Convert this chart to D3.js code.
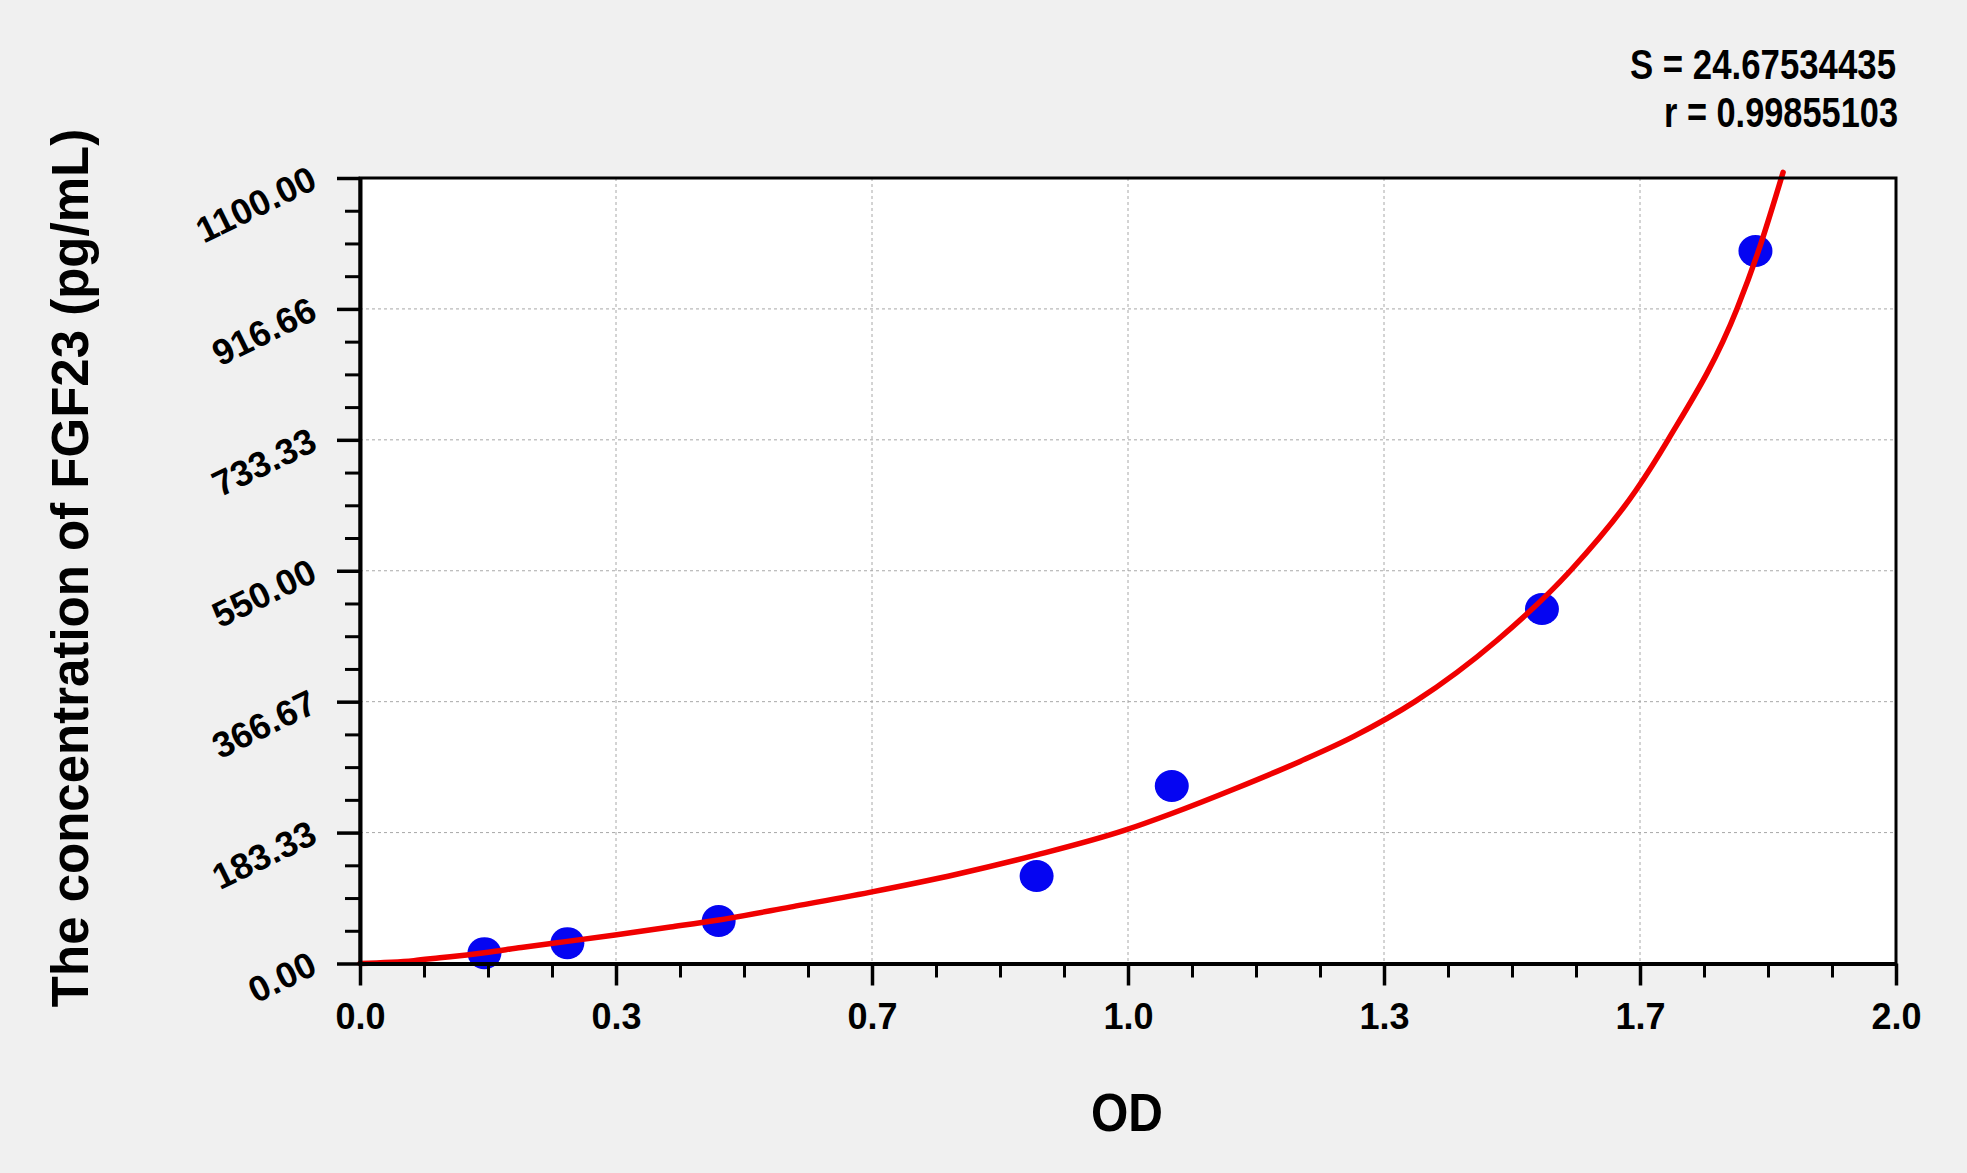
<!DOCTYPE html>
<html>
<head>
<meta charset="utf-8">
<script src="https://cdn.jsdelivr.net/npm/d3@7"></script>
<style>
  body { margin: 0; background: #f0f0f0; }
  svg { display: block; font-family: "Liberation Sans", Arial, sans-serif; font-weight: bold; }
  .grid line { stroke: #a8a8a8; stroke-width: 1; stroke-dasharray: 3,3; }
  .axis path, .axis line { stroke: #000; }
</style>
</head>
<body>
<svg id="chart" width="1967" height="1173"></svg>
<script>
// standard points (OD, concentration)
var pointOD   = [0.162, 0.270, 0.467, 0.881, 1.057, 1.539, 1.817];
var pointConc = [14.5, 28.5, 59.5, 122.5, 248.6, 496.4, 997.8];

// fitted curve
var curveOD   = [0.000, 0.070, 0.104, 0.139, 0.162, 0.210, 0.270, 0.332, 0.404, 0.467, 0.560, 0.665,
                 0.777, 0.881, 0.997, 1.057, 1.140, 1.224, 1.294, 1.374, 1.481, 1.576, 1.661,
                 1.703, 1.793, 1.820, 1.853];
var curveConc = [0, 4, 8, 12, 15, 22.5, 31, 40, 51, 61, 79, 100,
                 125, 152, 187, 210, 245, 283, 318, 367, 453, 550, 662,
                 733, 917, 995, 1108];

var xTickLabels = ["0.0", "0.3", "0.7", "1.0", "1.3", "1.7", "2.0"];
var yTickLabels = ["0.00", "183.33", "366.67", "550.00", "733.33", "916.66", "1100.00"];

var statS = "S = 24.67534435";
var statR = "r = 0.99855103";

var margin = {left: 360, right: 71, top: 178, bottom: 209.5};
var W = 1967, H = 1173;
var iw = W - margin.left - margin.right;
var ih = H - margin.top - margin.bottom;

var svg = d3.select("#chart");
var g = svg.append("g").attr("transform", "translate(" + margin.left + "," + margin.top + ")");

var x = d3.scaleLinear().domain([0, 2]).range([0, iw]);
var y = d3.scaleLinear().domain([0, 1100]).range([ih, 0]);

var xMajor = d3.range(7).map(function(i) { return i * 2 / 6; });
var xMinor = d3.range(25).map(function(i) { return i * 2 / 24; }).filter(function(_, i) { return i % 4 != 0; });
var yMajor = d3.range(7).map(function(i) { return i * 1100 / 6; });
var yMinor = d3.range(25).map(function(i) { return i * 1100 / 24; }).filter(function(_, i) { return i % 4 != 0; });

// plot background
g.append("rect").attr("width", iw).attr("height", ih).attr("fill", "#fff");

// dashed grid
var grid = g.append("g").attr("class", "grid");
grid.selectAll("line.v").data(xMajor.slice(1, 6)).enter().append("line")
  .attr("class", "v")
  .attr("x1", d => x(d)).attr("x2", d => x(d)).attr("y1", 0).attr("y2", ih);
grid.selectAll("line.h").data(yMajor.slice(1, 6)).enter().append("line")
  .attr("class", "h")
  .attr("x1", 0).attr("x2", iw).attr("y1", d => y(d)).attr("y2", d => y(d));

// blue standards
g.selectAll(".pt").data(pointOD).enter().append("ellipse")
  .attr("class", "pt")
  .attr("cx", d => x(d))
  .attr("cy", (d, i) => y(pointConc[i]))
  .attr("rx", 17).attr("ry", 16)
  .attr("fill", "#0505f2");

// red fitted curve (drawn above the points)
var line = d3.line()
  .x(d => x(d[0]))
  .y(d => y(d[1]))
  .curve(d3.curveMonotoneX);
g.append("path")
  .datum(curveOD.map((d, i) => [d, curveConc[i]]))
  .attr("d", line)
  .attr("fill", "none")
  .attr("stroke", "#f00000")
  .attr("stroke-width", 5.5)
  .attr("stroke-linecap", "round");

// frame
g.append("rect").attr("width", iw).attr("height", ih)
  .attr("fill", "none").attr("stroke", "#000").attr("stroke-width", 3);

// minor ticks
g.append("g").attr("class", "axis")
  .attr("transform", "translate(0," + ih + ")")
  .call(d3.axisBottom(x).tickValues(xMinor).tickSize(14).tickFormat(""))
  .call(a => a.select(".domain").remove())
  .selectAll("line").attr("stroke-width", 3);
g.append("g").attr("class", "axis")
  .call(d3.axisLeft(y).tickValues(yMinor).tickSize(15).tickFormat(""))
  .call(a => a.select(".domain").remove())
  .selectAll("line").attr("stroke-width", 3);

// major x axis
var xAxis = g.append("g").attr("class", "axis")
  .attr("transform", "translate(0," + ih + ")")
  .call(d3.axisBottom(x).tickValues(xMajor).tickSize(22).tickSizeOuter(0)
    .tickFormat((d, i) => xTickLabels[i]));
xAxis.select(".domain").attr("stroke-width", 4);
xAxis.selectAll("line").attr("stroke-width", 3.5);
xAxis.selectAll("text")
  .attr("y", 65).attr("dy", 0)
  .attr("fill", "#000")
  .style("font-size", "36px");

// major y axis, rotated labels
var yAxis = g.append("g").attr("class", "axis")
  .call(d3.axisLeft(y).tickValues(yMajor).tickSize(23).tickSizeOuter(0)
    .tickFormat((d, i) => yTickLabels[i]));
yAxis.select(".domain").attr("stroke-width", 4);
yAxis.selectAll("line").attr("stroke-width", 3.5);
yAxis.selectAll("text")
  .attr("x", null).attr("dy", null)
  .attr("text-anchor", "end")
  .attr("transform", "translate(-41,9) rotate(-26)")
  .attr("fill", "#000")
  .style("font-size", "36px");

// axis titles
svg.append("text")
  .attr("transform", "translate(88,568) rotate(-90)")
  .attr("text-anchor", "middle")
  .style("font-size", "51px")
  .text("The concentration of FGF23 (pg/mL)");
svg.append("text")
  .attr("x", 1127).attr("y", 1131)
  .attr("text-anchor", "middle")
  .attr("textLength", 72).attr("lengthAdjust", "spacingAndGlyphs")
  .style("font-size", "53px")
  .text("OD");

// fit statistics
svg.append("text")
  .attr("x", 1630).attr("y", 79)
  .attr("textLength", 266).attr("lengthAdjust", "spacingAndGlyphs")
  .style("font-size", "43px")
  .text(statS);
svg.append("text")
  .attr("x", 1664).attr("y", 127)
  .attr("textLength", 234).attr("lengthAdjust", "spacingAndGlyphs")
  .style("font-size", "43px")
  .text(statR);
</script>
</body>
</html>
